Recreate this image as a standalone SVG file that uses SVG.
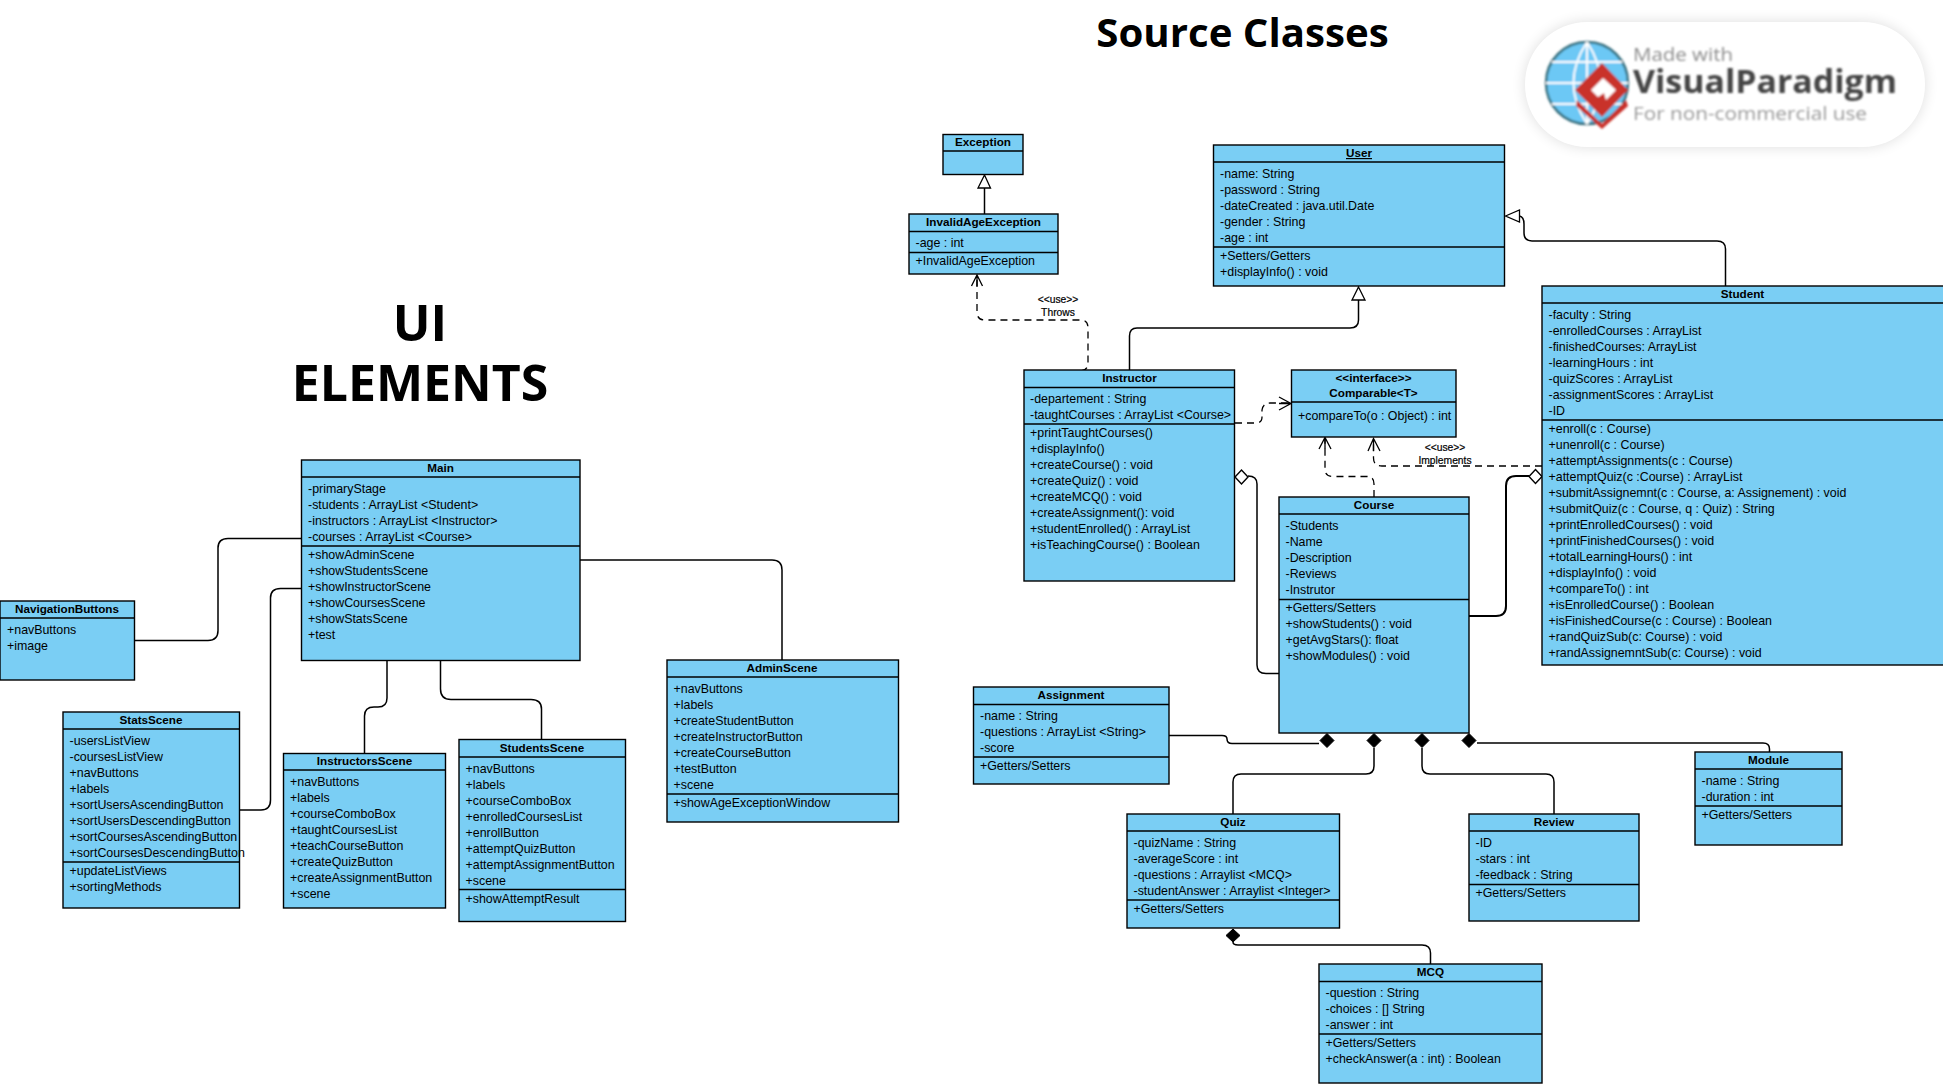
<svg xmlns="http://www.w3.org/2000/svg" width="1943" height="1084" viewBox="0 0 1943 1084">
<style>
text{font-family:"Liberation Sans",Arial,sans-serif;font-size:12.4px;fill:#000}
.n{font-weight:bold;font-size:11.7px;text-anchor:middle}
.b{fill:#7ACEF4;stroke:#000;stroke-width:1.4}
.s{stroke:#000;stroke-width:1.4}
.c{fill:none;stroke:#000;stroke-width:1.5}
.d{fill:none;stroke:#000;stroke-width:1.3;stroke-dasharray:7 5}
.oh{fill:none;stroke:#000;stroke-width:1.3}
.tri{fill:#fff;stroke:#000;stroke-width:1.3}
.ag{fill:#fff;stroke:#000;stroke-width:1.4}
.cm{fill:#000;stroke:#000}
.t{font-family:"Open Sans",sans-serif;font-weight:bold;text-anchor:middle}
.l{font-size:10.3px;text-anchor:middle;stroke:#000;stroke-width:.2}
</style>
<defs>
<filter id="shadow" x="-10%" y="-20%" width="120%" height="140%"><feGaussianBlur stdDeviation="7"/></filter>
<filter id="soft" x="-5%" y="-5%" width="110%" height="110%"><feGaussianBlur stdDeviation="0.8"/></filter>
</defs>
<rect width="1943" height="1084" fill="#fff"/>

<g id="titles">
<text class="t" x="1242.500" y="47" style="font-size:40.200px">Source Classes</text>
<text class="t" x="420" y="341" style="font-size:50px">UI</text>
<text class="t" x="420" y="401" style="font-size:50px">ELEMENTS</text>
</g>

<g id="watermark">
<rect x="1525" y="22" width="400" height="125" rx="62" fill="#000" opacity="0.13" filter="url(#shadow)"/>
<rect x="1525" y="22" width="400" height="125" rx="62" fill="#fff"/>
<g filter="url(#soft)">
<circle cx="1587" cy="83" r="41" fill="#6CC8F5" stroke="#37707F" stroke-width="2.500"/>
<path d="M1587 42V124M1546 83H1628M1552 62H1622M1552 104H1622M1587 42Q1560 83 1587 124M1587 42Q1614 83 1587 124" fill="none" stroke="#fff" stroke-width="2"/>
<path d="M1602 63L1628 90L1602 117L1575 90Z" fill="#C9302C"/>
<path d="M1603 78L1616 90L1606 100L1604 93L1598 97L1591 90Z" fill="#fff"/>
<path d="M1577 100L1602 124L1626 100L1628 106L1602 129L1576 106Z" fill="#C9302C"/>
<text x="1633" y="61" textLength="100" lengthAdjust="spacingAndGlyphs" style="font-family:'Open Sans',sans-serif;font-size:18px;fill:#8d8d8d">Made with</text>
<text x="1633" y="93" textLength="264" lengthAdjust="spacingAndGlyphs" style="font-family:'Open Sans',sans-serif;font-size:33px;font-weight:bold;fill:#444">VisualParadigm</text>
<text x="1633" y="120" textLength="234" lengthAdjust="spacingAndGlyphs" style="font-family:'Open Sans',sans-serif;font-size:18px;fill:#9a9a9a">For non-commercial use</text>
</g>
</g>

<g id="connectors">
<path class="c" d="M984.500 214V188"/>
<path class="c" d="M1725.500 286V249Q1725.500 241 1717 241H1532Q1524 241 1524 233V224Q1524 217 1519.500 216"/>
<path class="c" d="M1129.500 370V336Q1129.500 328 1137 328H1350Q1358.500 328 1358.500 320V300"/>
<path class="d" d="M1081 371Q1088 370 1088 363V328Q1088 320 1081 320H985Q977 320 977 312V275"/>
<path class="d" d="M1235 423H1256Q1262 423 1262 417V410Q1263 403 1270 403H1290"/>
<path class="d" d="M1374 497V484Q1374 476.500 1367 476.500H1333Q1325 476.500 1325 469V438"/>
<path class="d" d="M1542 466H1382Q1373.500 466 1373.500 458V439"/>
<path class="c" d="M1248 476Q1257 476 1257 484V665Q1257 673.500 1266 673.500H1279"/>
<path class="c" style="stroke-width:2" d="M1529 476H1516Q1506 476 1506 486V606Q1506 616 1496 616H1469"/>
<path class="c" d="M1169 735.500H1222Q1227 735.500 1227 739Q1227 743.500 1232 743.500H1319"/>
<path class="c" d="M1233 814V782Q1233 774 1241 774H1366Q1374 774 1374 766V748"/>
<path class="c" d="M1554 814V782Q1554 774 1546 774H1430Q1422 774 1422 766V748"/>
<path class="c" d="M1769.500 752V749Q1769.500 743 1763 743H1477"/>
<path class="c" d="M1233 942V942Q1233 945 1238 945H1422Q1430.500 945 1430.500 953V964"/>
<path class="c" d="M134.500 640.500H208Q218 640.500 218 630.500V548Q218 538.500 228 538.500H301.500"/>
<path class="c" d="M239.500 810H261Q270.500 810 270.500 800V598Q270.500 588.500 280.500 588.500H301.500"/>
<path class="c" d="M364.500 753.500V716Q364.500 707 374 707H378Q387 707 387 698V660.500"/>
<path class="c" d="M541.500 739.500V709Q541.500 699.500 531 699.500H451Q440.500 699.500 440.500 689V660.500"/>
<path class="c" d="M782 660V570Q782 560 772 560H580"/>
<path class="tri" d="M984.500 175L990.500 188H978Z"/>
<path class="tri" d="M1505.500 216L1519.500 210V222Z"/>
<path class="tri" d="M1358.500 287L1365 300H1352Z"/>
<path class="oh" d="M971.500 286L977 275L982.500 286M977 275V286"/>
<path class="oh" d="M1279 397L1291 403.500L1279 410M1291 403.500H1279"/>
<path class="oh" d="M1319 449L1325 437.500L1331 449M1325 437.500V449"/>
<path class="oh" d="M1368 451L1373.500 438.500L1380 451M1373.500 438.500V451"/>
<path class="ag" d="M1235 477L1241.500 470L1248 477L1241.500 484Z"/>
<path class="ag" d="M1529 476.500L1535.500 469.500L1542 476.500L1535.500 483.500Z"/>
<path class="cm" d="M1327 733.500L1334 740.500L1327 747.500L1320 740.500Z"/>
<path class="cm" d="M1374 733.500L1381 740.500L1374 747.500L1367 740.500Z"/>
<path class="cm" d="M1422 733.500L1429 740.500L1422 747.500L1415 740.500Z"/>
<path class="cm" d="M1469 733.500L1476 740.500L1469 747.500L1462 740.500Z"/>
<path class="cm" d="M1233 929L1240 935.500L1233 942L1226 935.500Z"/>
<text class="l" x="1058" y="303">&lt;&lt;use&gt;&gt;</text>
<text class="l" x="1058" y="316">Throws</text>
<text class="l" x="1445" y="451">&lt;&lt;use&gt;&gt;</text>
<text class="l" x="1445" y="464">Implements</text>
</g>

<g id="Exception"><rect class="b" x="943" y="134.500" width="80" height="40"/><line class="s" x1="943" y1="151" x2="1023" y2="151"/><text class="n" x="983" y="146">Exception</text></g>

<g id="InvalidAgeException"><rect class="b" x="909" y="214" width="149" height="60"/><line class="s" x1="909" y1="231.500" x2="1058" y2="231.500"/><line class="s" x1="909" y1="252.500" x2="1058" y2="252.500"/><text class="n" x="983.500" y="226">InvalidAgeException</text><text x="915.500" y="247">-age : int</text><text x="915.500" y="265">+InvalidAgeException</text></g>

<g id="User"><rect class="b" x="1213.500" y="145" width="291" height="141"/><line class="s" x1="1213.500" y1="162" x2="1504.500" y2="162"/><line class="s" x1="1213.500" y1="247" x2="1504.500" y2="247"/><text class="n" x="1359" y="157" text-decoration="underline">User</text><text x="1220" y="178">-name: String</text><text x="1220" y="194">-password : String</text><text x="1220" y="210">-dateCreated : java.util.Date</text><text x="1220" y="226">-gender : String</text><text x="1220" y="242">-age : int</text><text x="1220" y="260">+Setters/Getters</text><text x="1220" y="276">+displayInfo()  : void</text></g>

<g id="Student"><rect class="b" x="1542" y="286" width="402" height="379"/><line class="s" x1="1542" y1="303" x2="1943" y2="303"/><line class="s" x1="1542" y1="420" x2="1943" y2="420"/><text class="n" x="1742.500" y="298">Student</text>
<text x="1548.500" y="319">-faculty : String</text><text x="1548.500" y="335">-enrolledCourses : ArrayList</text><text x="1548.500" y="351">-finishedCourses: ArrayList</text><text x="1548.500" y="367">-learningHours : int</text><text x="1548.500" y="383">-quizScores : ArrayList</text><text x="1548.500" y="399">-assignmentScores : ArrayList</text><text x="1548.500" y="415">-ID</text>
<text x="1548.500" y="433">+enroll(c : Course)</text><text x="1548.500" y="449">+unenroll(c : Course)</text><text x="1548.500" y="465">+attemptAssignments(c : Course)</text><text x="1548.500" y="481">+attemptQuiz(c :Course) : ArrayList</text><text x="1548.500" y="497">+submitAssignemnt(c : Course, a: Assignement) : void</text><text x="1548.500" y="513">+submitQuiz(c : Course, q : Quiz) : String</text><text x="1548.500" y="529">+printEnrolledCourses() : void</text><text x="1548.500" y="545">+printFinishedCourses() : void</text><text x="1548.500" y="561">+totalLearningHours() : int</text><text x="1548.500" y="577">+displayInfo() : void</text><text x="1548.500" y="593">+compareTo() : int</text><text x="1548.500" y="609">+isEnrolledCourse() : Boolean</text><text x="1548.500" y="625">+isFinishedCourse(c : Course) : Boolean</text><text x="1548.500" y="641">+randQuizSub(c: Course) : void</text><text x="1548.500" y="657">+randAssignemntSub(c: Course) : void</text></g>

<g id="Instructor"><rect class="b" x="1024" y="370" width="210.500" height="211"/><line class="s" x1="1024" y1="387.500" x2="1234.500" y2="387.500"/><line class="s" x1="1024" y1="424" x2="1234.500" y2="424"/><text class="n" x="1129.500" y="382">Instructor</text><text x="1030" y="403">-departement : String</text><text x="1030" y="419">-taughtCourses : ArrayList &lt;Course&gt;</text>
<text x="1030" y="437">+printTaughtCourses()</text><text x="1030" y="453">+displayInfo()</text><text x="1030" y="469">+createCourse() : void</text><text x="1030" y="485">+createQuiz() : void</text><text x="1030" y="501">+createMCQ() : void</text><text x="1030" y="517">+createAssignment(): void</text><text x="1030" y="533">+studentEnrolled() : ArrayList</text><text x="1030" y="549">+isTeachingCourse() : Boolean</text></g>

<g id="Comparable"><rect class="b" x="1291.500" y="370" width="164.500" height="67"/><line class="s" x1="1291.500" y1="402" x2="1456" y2="402"/><text class="n" x="1373.500" y="382">&lt;&lt;interface&gt;&gt;</text><text class="n" x="1373.500" y="397">Comparable&lt;T&gt;</text><text x="1298" y="420">+compareTo(o : Object) : int</text></g>

<g id="Course"><rect class="b" x="1279" y="497" width="190" height="236"/><line class="s" x1="1279" y1="514" x2="1469" y2="514"/><line class="s" x1="1279" y1="599.500" x2="1469" y2="599.500"/><text class="n" x="1374" y="509">Course</text><text x="1285.500" y="530">-Students</text><text x="1285.500" y="546">-Name</text><text x="1285.500" y="562">-Description</text><text x="1285.500" y="578">-Reviews</text><text x="1285.500" y="594">-Instrutor</text><text x="1285.500" y="612">+Getters/Setters</text><text x="1285.500" y="628">+showStudents() : void</text><text x="1285.500" y="644">+getAvgStars(): float</text><text x="1285.500" y="660">+showModules() : void</text></g>

<g id="Assignment"><rect class="b" x="973.500" y="687" width="195.500" height="97"/><line class="s" x1="973.500" y1="704.500" x2="1169" y2="704.500"/><line class="s" x1="973.500" y1="757" x2="1169" y2="757"/><text class="n" x="1071" y="699">Assignment</text><text x="980" y="720">-name : String</text><text x="980" y="736">-questions : ArrayList &lt;String&gt;</text><text x="980" y="752">-score</text><text x="980" y="770">+Getters/Setters</text></g>

<g id="Quiz"><rect class="b" x="1127" y="814" width="212.500" height="114"/><line class="s" x1="1127" y1="831" x2="1339.500" y2="831"/><line class="s" x1="1127" y1="900" x2="1339.500" y2="900"/><text class="n" x="1233" y="826">Quiz</text><text x="1133.500" y="847">-quizName : String</text><text x="1133.500" y="863">-averageScore : int</text><text x="1133.500" y="879">-questions : Arraylist &lt;MCQ&gt;</text><text x="1133.500" y="895">-studentAnswer : Arraylist &lt;Integer&gt;</text><text x="1133.500" y="913">+Getters/Setters</text></g>

<g id="Review"><rect class="b" x="1469" y="814" width="170" height="107"/><line class="s" x1="1469" y1="831" x2="1639" y2="831"/><line class="s" x1="1469" y1="884.500" x2="1639" y2="884.500"/><text class="n" x="1554" y="826">Review</text><text x="1475.500" y="847">-ID</text><text x="1475.500" y="863">-stars : int</text><text x="1475.500" y="879">-feedback : String</text><text x="1475.500" y="897">+Getters/Setters</text></g>

<g id="Module"><rect class="b" x="1695" y="752" width="147" height="93"/><line class="s" x1="1695" y1="769" x2="1842" y2="769"/><line class="s" x1="1695" y1="806" x2="1842" y2="806"/><text class="n" x="1768.500" y="764">Module</text><text x="1701.500" y="785">-name : String</text><text x="1701.500" y="801">-duration : int</text><text x="1701.500" y="819">+Getters/Setters</text></g>

<g id="MCQ"><rect class="b" x="1319" y="964" width="223" height="119"/><line class="s" x1="1319" y1="981.500" x2="1542" y2="981.500"/><line class="s" x1="1319" y1="1034" x2="1542" y2="1034"/><text class="n" x="1430.500" y="976">MCQ</text><text x="1325.500" y="997">-question : String</text><text x="1325.500" y="1013">-choices : [] String</text><text x="1325.500" y="1029">-answer : int</text><text x="1325.500" y="1047">+Getters/Setters</text><text x="1325.500" y="1063">+checkAnswer(a : int) : Boolean</text></g>

<g id="Main"><rect class="b" x="301.500" y="460" width="278.500" height="200.500"/><line class="s" x1="301.500" y1="477" x2="580" y2="477"/><line class="s" x1="301.500" y1="546" x2="580" y2="546"/><text class="n" x="440.500" y="472">Main</text><text x="308" y="493">-primaryStage</text><text x="308" y="509">-students : ArrayList &lt;Student&gt;</text><text x="308" y="525">-instructors : ArrayList &lt;Instructor&gt;</text><text x="308" y="541">-courses : ArrayList &lt;Course&gt;</text><text x="308" y="559">+showAdminScene</text><text x="308" y="575">+showStudentsScene</text><text x="308" y="591">+showInstructorScene</text><text x="308" y="607">+showCoursesScene</text><text x="308" y="623">+showStatsScene</text><text x="308" y="639">+test</text></g>

<g id="NavigationButtons"><rect class="b" x="0" y="601" width="134.500" height="79"/><line class="s" x1="0" y1="618" x2="134.500" y2="618"/><text class="n" x="67" y="613">NavigationButtons</text><text x="7" y="634">+navButtons</text><text x="7" y="650">+image</text></g>

<g id="StatsScene"><rect class="b" x="63" y="712" width="176.500" height="196"/><line class="s" x1="63" y1="729" x2="239.500" y2="729"/><line class="s" x1="63" y1="862" x2="239.500" y2="862"/><text class="n" x="151" y="724">StatsScene</text><text x="69.500" y="745">-usersListView</text><text x="69.500" y="761">-coursesListView</text><text x="69.500" y="777">+navButtons</text><text x="69.500" y="793">+labels</text><text x="69.500" y="809">+sortUsersAscendingButton</text><text x="69.500" y="825">+sortUsersDescendingButton</text><text x="69.500" y="841">+sortCoursesAscendingButton</text><text x="69.500" y="857">+sortCoursesDescendingButton</text><text x="69.500" y="875">+updateListViews</text><text x="69.500" y="891">+sortingMethods</text></g>

<g id="InstructorsScene"><rect class="b" x="283.500" y="753.500" width="162" height="154.500"/><line class="s" x1="283.500" y1="770" x2="445.500" y2="770"/><text class="n" x="364.500" y="765">InstructorsScene</text><text x="290" y="786">+navButtons</text><text x="290" y="802">+labels</text><text x="290" y="818">+courseComboBox</text><text x="290" y="834">+taughtCoursesList</text><text x="290" y="850">+teachCourseButton</text><text x="290" y="866">+createQuizButton</text><text x="290" y="882">+createAssignmentButton</text><text x="290" y="898">+scene</text></g>

<g id="StudentsScene"><rect class="b" x="459" y="739.500" width="166.500" height="182"/><line class="s" x1="459" y1="757" x2="625.500" y2="757"/><line class="s" x1="459" y1="889.500" x2="625.500" y2="889.500"/><text class="n" x="542" y="752">StudentsScene</text><text x="465.500" y="773">+navButtons</text><text x="465.500" y="789">+labels</text><text x="465.500" y="805">+courseComboBox</text><text x="465.500" y="821">+enrolledCoursesList</text><text x="465.500" y="837">+enrollButton</text><text x="465.500" y="853">+attemptQuizButton</text><text x="465.500" y="869">+attemptAssignmentButton</text><text x="465.500" y="885">+scene</text><text x="465.500" y="903">+showAttemptResult</text></g>

<g id="AdminScene"><rect class="b" x="667" y="660" width="231.500" height="162"/><line class="s" x1="667" y1="677" x2="898.500" y2="677"/><line class="s" x1="667" y1="794" x2="898.500" y2="794"/><text class="n" x="782" y="672">AdminScene</text><text x="673.500" y="693">+navButtons</text><text x="673.500" y="709">+labels</text><text x="673.500" y="725">+createStudentButton</text><text x="673.500" y="741">+createInstructorButton</text><text x="673.500" y="757">+createCourseButton</text><text x="673.500" y="773">+testButton</text><text x="673.500" y="789">+scene</text><text x="673.500" y="807">+showAgeExceptionWindow</text></g>
</svg>
